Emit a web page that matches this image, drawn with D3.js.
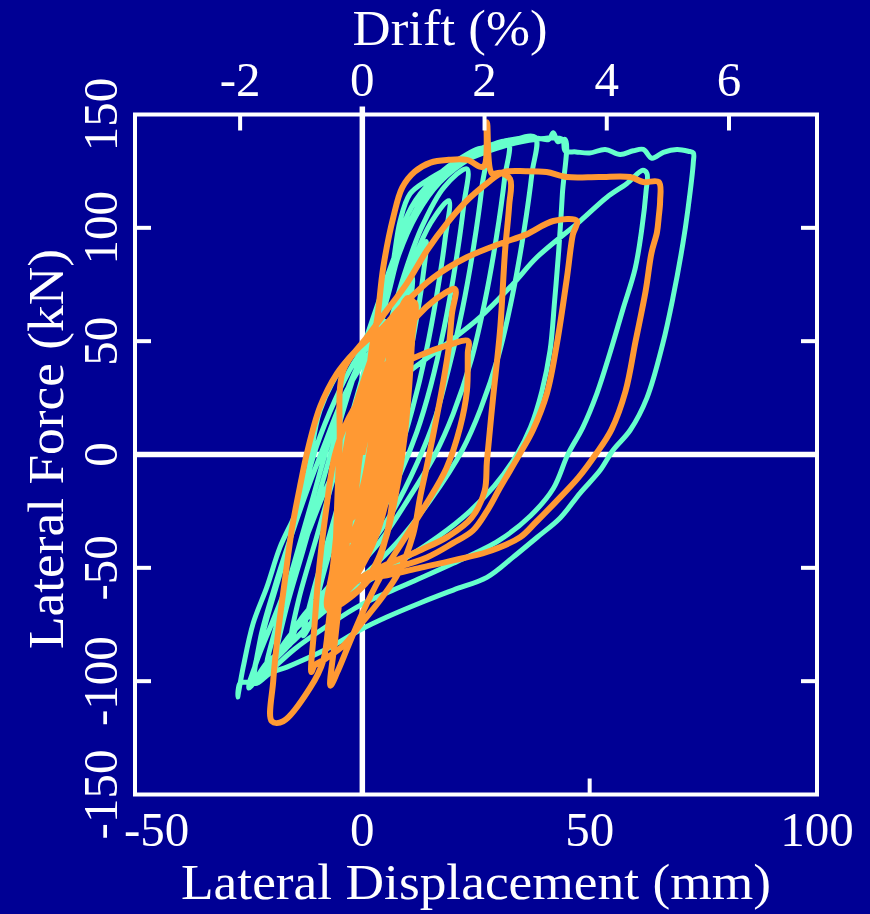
<!DOCTYPE html>
<html>
<head>
<meta charset="utf-8">
<script src="https://cdn.jsdelivr.net/npm/d3@7"></script>
<style>
  html, body { margin: 0; padding: 0; background: #000094; }
  svg { display: block; }
  text { font-family: "Liberation Serif", "Times New Roman", serif; fill: #ffffff; }
</style>
</head>
<body>
<svg id="chart" width="870" height="914"></svg>
<script>
// Axis ticks
const dispTicks = [-50, 0, 50, 100];
const forceTicks = [-150, -100, -50, 0, 50, 100, 150];
const driftTicks = [-2, 0, 2, 4, 6];
const mmPerPercentDrift = 13.44;

// Specimen A: measured lateral displacement (mm), lateral force (kN)
const specimenA = [
  [0,0],[1.5,15],[3,28],[2.5,18],[1,0],[-0.5,-12],[-1.5,-22],
  [0,-5],[1.5,12],[3.5,32],[5,44],[4.3,30],[2.5,10],[0.5,-10],[-1.5,-25],[-3,-36],
  [-1.5,-18],[1,5],[3.5,28],[6,50],[7.5,60],[6.8,45],[5,25],[2.5,0],[0,-20],[-2.5,-38],[-5,-52],
  [-3,-32],[0,-5],[3,22],[6,46],[9,66],[11,78],[10.3,62],[8.5,40],[6,16],[3,-8],[0,-28],[-3,-46],[-6,-60],[-8,-66],
  [-6,-48],[-3,-22],[0,4],[3,28],[7,56],[11,80],[14,94],[13.3,78],[11.5,55],[9,30],[6,8],[3,-14],[0,-32],[-4,-50],[-8,-64],[-11,-74],
  [-9,-56],[-5,-28],[-1,2],[3,30],[7,58],[11,84],[15,102],[19,112],[18.2,95],[16.5,72],[14,45],[11,20],[8,0],[4,-20],[0,-38],[-5,-56],[-10,-70],[-13,-80],
  [-11,-62],[-7,-34],[-3,-6],[1,22],[5,50],[9,78],[13,100],[18,118],[23,126],[22.3,110],[20.5,84],[18,56],[15,30],[12,10],[8,-10],[3,-30],[-3,-48],[-9,-62],[-14,-74],[-16,-84],
  [-14,-64],[-10,-36],[-6,-8],[-2,20],[2,48],[6,76],[10,100],[15,119],[21,130],[27,135],[26.3,118],[24.5,92],[22,64],[19,38],[16,16],[12,-4],[7,-24],[1,-42],[-5,-56],[-11,-68],[-16,-80],[-19,-90],
  [-17,-70],[-13,-42],[-9,-14],[-5,14],[-1,40],[3,64],[8,92],[13,112],[19,126],[25,133],[32,138],[31.3,122],[29.5,96],[27,68],[24,42],[20,18],[16,0],[10,-20],[4,-38],[-3,-54],[-10,-68],[-16,-80],[-21,-94],
  [-19,-76],[-15,-48],[-11,-20],[-7,8],[-3,30],[1,48],[5,66],[8,88],[12,106],[17,120],[24,131],[31,137],[38,140],[37.3,124],[35.5,98],[33,70],[30,44],[26,20],[22,2],[15,-20],[8,-38],[0,-54],[-8,-68],[-15,-82],[-21,-92],[-24,-100],
  [-22,-80],[-18,-52],[-14,-24],[-10,4],[-6,24],[-2,40],[2,52],[5,68],[7.5,90],[10,106],[14,118],[21,130],[29,137],[37,140],[41,139],[42,142],[43,138],[44.6,139],[44,115],[43.2,90],[42.3,68],[41.3,46],[39.5,28],[37,12],[34,0],[29,-14],[22,-28],[14,-40],[6,-50],[-2,-60],[-10,-72],[-17,-86],[-22,-96],[-25,-103],
  [-23,-90],[-20,-75],[-16,-55],[-12,-35],[-8,-15],[-3,5],[3,22],[10,36],[18,48],[25.9,60.6],[33.2,75.4],[38.4,87],[47.9,103],[53.8,113.5],[58.2,119.6],[61.7,125.4],[62.6,124],[62.4,116],[61.5,100],[60,82],[57.3,64],[54.5,45],[51.6,27],[48.5,12],[45.2,0],[42,-15],[37,-27],[30,-38],[20,-48],[10,-57],[0,-66],[-8,-76],[-15,-86],[-20,-95],[-23.5,-101],
  [-22.5,-82],[-19.5,-60],[-16,-38],[-12,-15],[-8,6],[-4,26],[0,40],[3,50],[5,65],[6.8,85],[8.3,103],[10.5,115],[14.3,121],[18.6,126],[24,131],[31,136],[38,139],[44,139],
  [44.6,134],[47,133.5],[50,133],[53.4,134.6],[56.7,132.4],[59.6,134],[61.8,134.6],[63.7,130.7],[66.2,133.3],[69.2,134.6],[71.7,133.8],[72.8,133],
  [72.8,129],[71.6,108],[70.5,93],[68.3,69],[66.1,49],[62.6,25],[58.9,10.7],[55.1,1.8],[52.3,-7],[47.9,-17],[43.5,-28],[38.4,-36.6],[33.1,-45.4],[27.4,-54.2],[20,-59.8],[12.7,-65.5],[5.4,-71.7],[-0.5,-77.4],[-7.1,-85],[-13,-90.7],[-16.6,-93.8],[-20.3,-96.5],[-23.2,-100.9],[-25.4,-100.5],[-26.9,-100.9],[-27.4,-107],
  [-26.2,-93.8],[-24,-74.4],[-21,-58.5],[-18.1,-40.9],[-14.4,-24.6],[-12,-8],[-9.3,19.5],[-3.4,41.6],[1,49],[5,60]
];

// Specimen B: measured lateral displacement (mm), lateral force (kN)
const specimenB = [
  [0,0],[1.5,15],[3,30],[2.6,18],[1.5,0],[0,-15],[-2,-28],
  [-1.3,-14],[-0.5,0],[1,15],[3,30],[4.5,40],[4,26],[2.5,0],[0.5,-20],[-1.5,-32],[-3,-38],
  [-2.3,-22],[-1.5,0],[0.5,18],[3,34],[6,50],[5.5,36],[4,12],[2.8,-6],[0.5,-26],[-2,-40],[-4,-48],
  [-3.2,-30],[-2,-4],[-0.5,14],[2,32],[4.5,46],[7,56],[6.5,42],[5,18],[3.5,-4],[1,-28],[-2,-44],[-4.5,-54],
  [-3.8,-34],[-2.5,-6],[-1,14],[1.5,32],[4.5,48],[8,62],[7.5,48],[6.2,24],[5,2],[2.5,-24],[-1,-42],[-3.5,-52],[-5,-58],
  [-4.2,-36],[-3,-8],[-1.5,12],[1,30],[4.5,48],[7,58],[9,66],[8.5,52],[7.3,28],[6.2,6],[4,-18],[1,-38],[-3,-54],[-5.5,-62],
  [-4.6,-40],[-3.2,-10],[-1.8,12],[1,32],[5,52],[8,62],[9.5,68],[9.2,56],[8.2,32],[7,8],[5,-16],[2,-36],[-2,-52],[-6,-64],
  [-4.8,-40],[-3.8,-12],[-2.2,12],[0.5,32],[4.5,52],[8,63],[10,69],[9.6,56],[8.8,32],[7.8,8],[6,-14],[3,-36],[-1.5,-54],[-6.3,-66],
  [-5,-42],[-3.5,-14],[-2,10],[1,32],[5,52],[8.5,64],[10,68],[9.3,52],[8,28],[6.8,4],[4.5,-20],[1,-42],[-3,-58],[-6.5,-66],
  [-5.3,-44],[-4,-14],[-2.5,10],[0.5,34],[5,56],[9,64],[11.5,67],[11,52],[10.3,30],[9.3,8],[7.5,-16],[5,-38],[1,-56],[-4,-64],[-7,-66],
  [-5.8,-42],[-4.5,-14],[-3,8],[-0.5,28],[3,46],[7,60],[11,68],[10.6,56],[9.8,34],[9,14],[8,-6],[6.5,-26],[3.5,-46],[-1,-60],[-6,-64],
  [-5,-44],[-3.5,-16],[-2,6],[1,28],[4.5,46],[8,58],[10.5,65],[10,48],[9,26],[8.2,6],[7,-14],[5.5,-34],[2.5,-52],[-2,-62],[-7.5,-68],
  [-6.5,-50],[-5,-22],[-3.8,0],[-2,18],[1,36],[5,54],[9.5,66],[9,50],[7.8,26],[7.2,8],[5.5,-12],[2.5,-34],[-2,-54],[-6.8,-66],
  [-4.5,-40],[-3,-14],[-1,8],[2,26],[6,42],[10,56],[14,65],[18,71],[20.4,73],[19.7,62],[19,47],[17.8,32],[16.5,18],[14.3,-4],[12.7,-19],[11.2,-35],[8,-52],[4,-64],[0,-74],[-4,-84],[-8,-90],[-10.5,-93],[-11.2,-96],
  [-10.5,-75],[-9.5,-50],[-8,-25],[-6,0],[-3,16],[1,28],[7,38],[13,44],[18.5,48],[23.3,50],[23.2,45],[23,28],[21.5,12],[18.5,-6],[14,-22],[9,-38],[4,-54],[0,-70],[-3,-84],[-5.5,-96],[-7,-102],
  [-6,-82],[-4.5,-55.5],[-2.7,-29],[-1,-2.7],[0.8,24],[2.1,47],[3.3,60.4],[4.6,82.5],[6.8,104.6],[8.8,117.8],[11.5,124.7],[15,128.8],[19,130],[23,130],[26.6,127],[27.4,146.6],[28.5,124],[30.3,124.3],[32.5,121.5],
  [32.3,110],[31.4,90],[30.3,55],[28.7,24],[27.4,-3],[26.9,-16],[24,-28],[19,-36],[13,-42],[6,-48],[0,-54],[-4,-62],[-6.5,-72],[-7.5,-85],
  [-7,-65],[-6,-45],[-5.5,-20],[-5,5],[-4.2,37],[1,51.7],[5.4,63.6],[9.8,75.5],[14.2,90],[18.6,102],[23,112],[27.4,119.6],[30.9,124.5],[36,125],[40.5,124.6],[45,122.4],[52,122.4],[58.9,122.4],[61.8,120.2],[65.2,120.2],
  [65.5,112],[65.2,105],[64.8,98],[63.6,89],[62.3,72],[60.1,50],[57.9,28],[54.8,11],[51.3,0],[47.6,-10],[42.5,-21],[38.1,-30],[34.7,-36.5],[27.4,-43],[20,-46.7],[12.7,-50],[5.4,-53.3],[-2,-55.5],[-5.6,-57],[-7,-68],[-8.6,-91],[-11.5,-103],[-17.4,-117.7],[-19.9,-117.7],
  [-19.6,-100],[-18.5,-78],[-17,-55],[-15.5,-33],[-13.5,-12],[-12.2,0.4],[-9.3,21],[-5.6,35.7],[-2,44.6],[1,50.4],[3.9,54.8],[9,66],[15.6,78],[23,87],[30.3,93],[36,97],[42,103],[47.2,103],
  [46.3,97],[45,78],[42.8,49],[40.6,27],[37.5,10.7],[34.7,0.5],[30.3,-14.6],[27.4,-25],[24.3,-33.6],[20,-39],[14.2,-45.4],[5.4,-51],[0,-54],[-3,-57]
];

const colors = { bg: "#000094", axis: "#ffffff", a: "#66ffcc", b: "#ff9933" };

const svg = d3.select("#chart");
const W = 870, H = 914;
const plot = { left: 135, right: 817, top: 114.5, bottom: 794.5 };

svg.append("rect").attr("width", W).attr("height", H).attr("fill", colors.bg);

const x = d3.scaleLinear().domain([-50, 100]).range([plot.left, plot.right]);
const y = d3.scaleLinear().domain([-150, 150]).range([plot.bottom, plot.top]);
const xDrift = d3.scaleLinear()
  .domain([-50 / mmPerPercentDrift, 100 / mmPerPercentDrift])
  .range([plot.left, plot.right]);

// zero reference lines
svg.append("line")
  .attr("x1", x(0)).attr("x2", x(0))
  .attr("y1", plot.top - 8).attr("y2", plot.bottom)
  .attr("stroke", colors.axis).attr("stroke-width", 5.5);
svg.append("line")
  .attr("x1", plot.left).attr("x2", plot.right)
  .attr("y1", y(0)).attr("y2", y(0))
  .attr("stroke", colors.axis).attr("stroke-width", 5.5);

// hysteresis curves
svg.append("clipPath").attr("id", "clip")
  .append("rect")
  .attr("x", plot.left).attr("y", plot.top - 20)
  .attr("width", plot.right - plot.left).attr("height", plot.bottom - plot.top + 20);

const line = d3.line()
  .x(d => x(d[0]))
  .y(d => y(d[1]))
  .curve(d3.curveCatmullRom.alpha(0.5));

const curves = svg.append("g").attr("clip-path", "url(#clip)");
curves.append("path").datum(specimenA)
  .attr("d", line).attr("fill", "none")
  .attr("stroke", colors.a).attr("stroke-width", 5)
  .attr("stroke-linejoin", "round").attr("stroke-linecap", "butt");
curves.append("path").datum(specimenB)
  .attr("d", line).attr("fill", "none")
  .attr("stroke", colors.b).attr("stroke-width", 6)
  .attr("stroke-linejoin", "round").attr("stroke-linecap", "butt");

// frame
svg.append("rect")
  .attr("x", plot.left).attr("y", plot.top)
  .attr("width", plot.right - plot.left).attr("height", plot.bottom - plot.top)
  .attr("fill", "none").attr("stroke", colors.axis).attr("stroke-width", 4);

// inward ticks
const tickLen = 16;
const axisG = svg.append("g").attr("stroke", colors.axis).attr("stroke-width", 4);
dispTicks.filter(v => v > -50 && v < 100 && v !== 0).forEach(v => {
  axisG.append("line").attr("x1", x(v)).attr("x2", x(v))
    .attr("y1", plot.bottom).attr("y2", plot.bottom - tickLen);
});
driftTicks.filter(v => v !== 0).forEach(v => {
  axisG.append("line").attr("x1", xDrift(v)).attr("x2", xDrift(v))
    .attr("y1", plot.top).attr("y2", plot.top + tickLen);
});
forceTicks.filter(v => v > -150 && v < 150 && v !== 0).forEach(v => {
  axisG.append("line").attr("x1", plot.left).attr("x2", plot.left + tickLen)
    .attr("y1", y(v)).attr("y2", y(v));
  axisG.append("line").attr("x1", plot.right).attr("x2", plot.right - tickLen)
    .attr("y1", y(v)).attr("y2", y(v));
});

// tick labels
const fs = 49;
dispTicks.forEach(v => {
  const t = svg.append("text")
    .attr("y", 846).attr("font-size", fs).text(v);
  if (v === -50) t.attr("x", 124).attr("text-anchor", "start");
  else t.attr("x", x(v)).attr("text-anchor", "middle");
});
driftTicks.forEach(v => {
  svg.append("text")
    .attr("x", xDrift(v)).attr("y", 96)
    .attr("text-anchor", "middle").attr("font-size", fs).text(v);
});
forceTicks.forEach(v => {
  svg.append("text")
    .attr("transform", `translate(117,${y(v)}) rotate(-90)`)
    .attr("text-anchor", "middle").attr("font-size", fs).text(v);
});

// axis titles
svg.append("text")
  .attr("x", 476).attr("y", 899)
  .attr("text-anchor", "middle").attr("font-size", 50)
  .attr("textLength", 590).attr("lengthAdjust", "spacingAndGlyphs")
  .text("Lateral Displacement (mm)");
svg.append("text")
  .attr("x", 450).attr("y", 45)
  .attr("text-anchor", "middle").attr("font-size", 50)
  .attr("textLength", 195).attr("lengthAdjust", "spacingAndGlyphs")
  .text("Drift (%)");
svg.append("text")
  .attr("transform", "translate(63,449) rotate(-90)")
  .attr("text-anchor", "middle").attr("font-size", 50)
  .attr("textLength", 400).attr("lengthAdjust", "spacingAndGlyphs")
  .text("Lateral Force (kN)");
</script>
</body>
</html>
